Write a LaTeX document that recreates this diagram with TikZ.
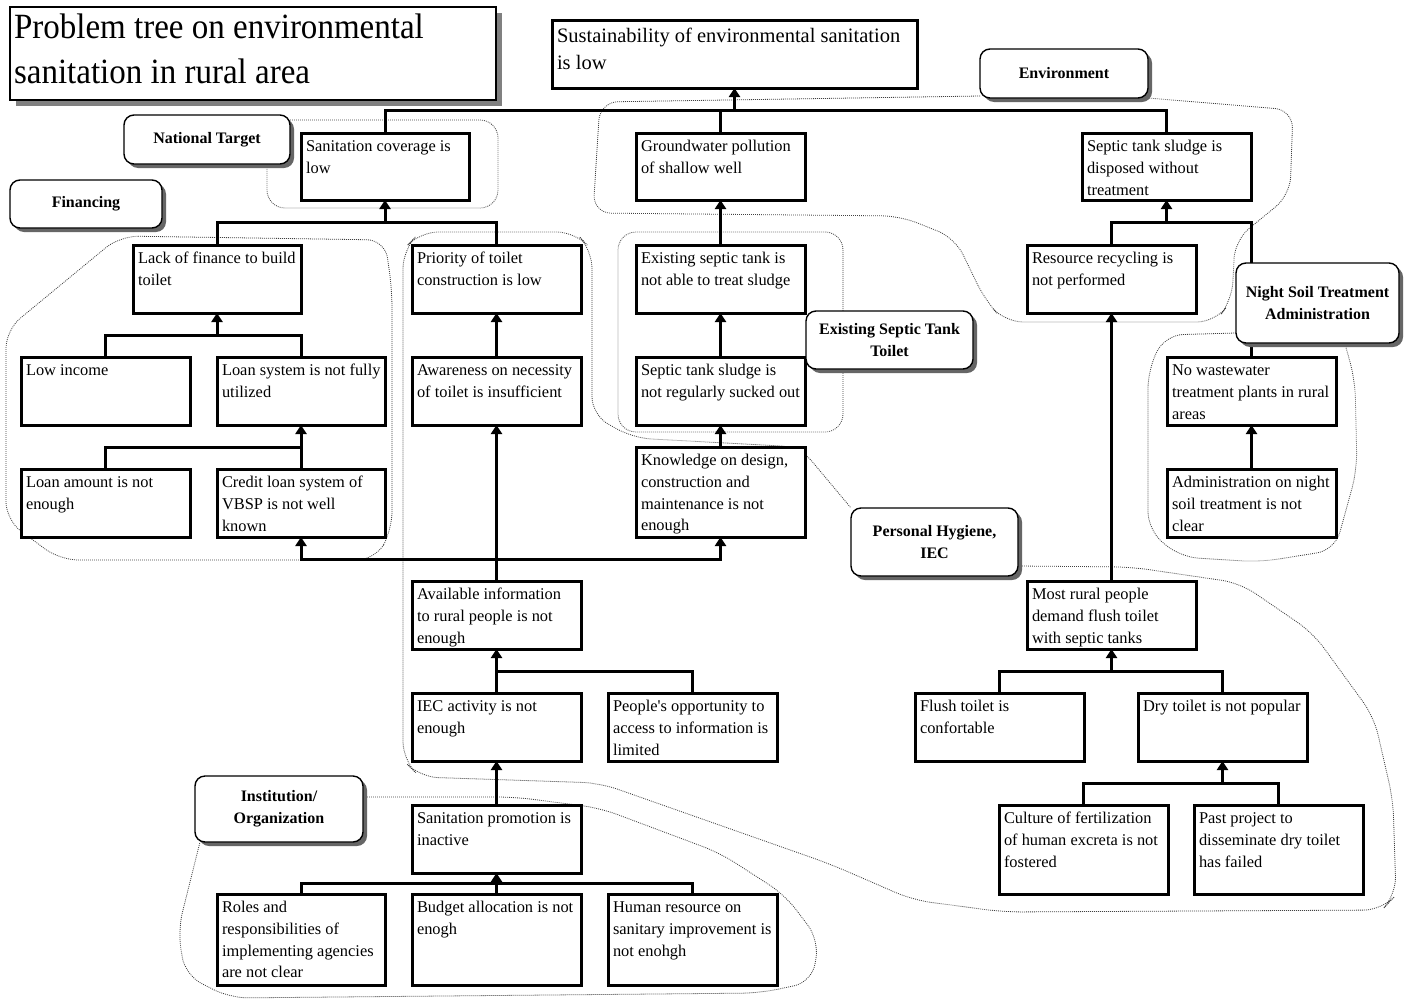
\documentclass[tikz,border=0pt]{standalone}
\usepackage{fontspec}
\setmainfont{Liberation Serif}
\newfontfamily\titlefont[FakeStretch=0.93]{Liberation Serif}
\usetikzlibrary{arrows.meta,shadows}
\newcommand{\pb}[7][]{%
  \node[pbox,#1,anchor=north west] (#2) at (#3,#4)
   {\parbox[c][\dimexpr #6pt-#4pt-7pt\relax][t]{\dimexpr #5pt-#3pt-10pt\relax}{\begin{tabular}[t]{@{}l@{}}#7\end{tabular}}};}
\newcommand{\lb}[6]{%
  \node[lbl, minimum width={(#4-#2)*1pt}, minimum height={(#5-#3)*1pt}] (#1) at ({(#2+#4)/2},{(#3+#5)/2}) {#6};}
\begin{document}
\begin{tikzpicture}[x=1pt,y=-1pt,
  pbox/.style={draw, line width=3pt, fill=white, inner xsep=5pt, inner ysep=3.5pt, outer sep=0pt,
    font=\fontsize{16.4}{21.7}\selectfont},
  bigtext/.style={font=\fontsize{20.5}{27}\selectfont},
  lbl/.style={draw, line width=1.4pt, rounded corners=10pt, fill=white, align=center, inner sep=0pt,
    font=\bfseries\fontsize{16}{22}\selectfont,
    general shadow={fill=black!60, shadow xshift=4pt, shadow yshift=-4pt}},
  conn/.style={line width=3pt},
  arr/.style={line width=3pt, -{Triangle[width=11pt,length=9pt]}},
  grp/.style={draw=black!75, line width=0.8pt, dash pattern=on 0.9pt off 1.1pt, rounded corners=18pt}]
\fill[white] (0,0) rectangle (1404,1001);
\useasboundingbox (0,0) rectangle (1404,1001);

% group outlines
\draw[grp] (290,120) -- (498,120) -- (498,208) -- (267,208) -- (267,163);
\draw[grp] (980,96) -- (600,102) -- (593,213) -- (900,216) -- (955,238) -- (985,300) -- (1005,322)
  -- (1215,322) -- (1232,300) -- (1235,240) -- (1290,195) -- (1293,110) -- (1148,98);
\draw[grp] (120,236) -- (385,240) -- (392,290) -- (392,530) -- (375,560) -- (60,560) -- (6,520)
  -- (6,330) -- cycle;
\draw[grp] (1018,566) -- (1131,567) -- (1240,583) -- (1313,633) -- (1374,717) -- (1393,800)
  -- (1396,895) -- (1382,910) -- (1004,912) -- (913,900) -- (830,864) -- (600,783) -- (420,777)
  -- (403,760) -- (403,250) -- (420,232) -- (575,232) -- (592,250) -- (592,415) -- (633,438)
  -- (800,447) -- (851,508);
\draw[grp] (843,311) -- (843,232) -- (618,232) -- (618,432) -- (843,432) -- (843,369);
\draw[grp] (1236,333) -- (1165,335) -- (1148,370) -- (1148,530) -- (1180,557) -- (1260,562)
  -- (1335,550) -- (1357,470) -- (1355,380) -- (1345,344);
\draw[grp] (363,797) -- (515,797) -- (600,808) -- (720,853) -- (785,895) -- (819,940) -- (812,982)
  -- (760,993) -- (230,998) -- (185,975) -- (178,930) -- (200,842);

% title
\node[draw, line width=1.3pt, fill=white, inner sep=0pt, outer sep=0pt, anchor=north west,
  general shadow={fill=black!50, shadow xshift=6pt, shadow yshift=-6pt},
  font=\titlefont\fontsize{35.5}{45}\selectfont] (title) at (10,7)
  {\parbox[c][93pt][t]{486pt}{\hspace*{4pt}\begin{tabular}[t]{@{}l@{}}Problem tree on environmental\\sanitation in rural area\end{tabular}}};

% problem boxes
\pb[bigtext]{sust}{552}{20}{917}{88}{Sustainability of environmental sanitation\\is low}
\pb{sancov}{301}{133}{469}{200}{Sanitation coverage is\\low}
\pb{ground}{636}{133}{805}{200}{Groundwater pollution\\of shallow well}
\pb{disp}{1082}{133}{1251}{200}{Septic tank sludge is\\disposed without\\treatment}
\pb{lackfin}{133}{245}{301}{313}{Lack of finance to build\\toilet}
\pb{prio}{412}{245}{581}{313}{Priority of toilet\\construction is low}
\pb{exist}{636}{245}{805}{313}{Existing septic tank is\\not able to treat sludge}
\pb{resrec}{1027}{245}{1196}{313}{Resource recycling is\\not performed}
\pb{lowinc}{21}{357}{190}{425}{Low income}
\pb{loansys}{217}{357}{385}{425}{Loan system is not fully\\utilized}
\pb{aware}{412}{357}{581}{425}{Awareness on necessity\\of toilet is insufficient}
\pb{sucked}{636}{357}{805}{425}{Septic tank sludge is\\not regularly sucked out}
\pb{noww}{1167}{357}{1336}{425}{No wastewater\\treatment plants in rural\\areas}
\pb{loanamt}{21}{469}{190}{537}{Loan amount is not\\enough}
\pb{credit}{217}{469}{385}{537}{Credit loan system of\\VBSP is not well\\known}
\pb{know}{636}{447}{805}{537}{Knowledge on design,\\construction and\\maintenance is not\\enough}
\pb{admin}{1167}{469}{1336}{537}{Administration on night\\soil treatment is not\\clear}
\pb{avail}{412}{581}{581}{649}{Available information\\to rural people is not\\enough}
\pb{most}{1027}{581}{1196}{649}{Most rural people\\demand flush toilet\\with septic tanks}
\pb{iec}{412}{693}{581}{761}{IEC activity is not\\enough}
\pb{opp}{608}{693}{777}{761}{People\textquotesingle s opportunity to\\access to information is\\limited}
\pb{flush}{915}{693}{1084}{761}{Flush toilet is\\confortable}
\pb{dry}{1138}{693}{1307}{761}{Dry toilet is not popular}
\pb{promo}{412}{805}{581}{873}{Sanitation promotion is\\inactive}
\pb{culture}{999}{805}{1168}{894}{Culture of fertilization\\of human excreta is not\\fostered}
\pb{past}{1194}{805}{1363}{894}{Past project to\\disseminate dry toilet\\has failed}
\pb{roles}{217}{894}{385}{985}{Roles and\\responsibilities of\\implementing agencies\\are not clear}
\pb{budget}{412}{894}{581}{985}{Budget allocation is not\\enogh}
\pb{human}{608}{894}{777}{985}{Human resource on\\sanitary improvement is\\not enohgh}

% bus levels
\coordinate (yA) at (0,110);
\coordinate (yB) at (0,222);
\coordinate (yC) at (0,335);
\coordinate (yD) at (0,447);
\coordinate (yE) at (0,559);
\coordinate (yF) at (0,671);
\coordinate (yG) at (0,783);
\coordinate (yH) at (0,883);

% connectors
\draw[conn] (sancov.north) |- (disp.north |- yA) -- (disp.north);
\draw[conn] (ground.north) -- (ground.north |- yA);
\draw[arr] (sust.south |- yA) -- (sust.south);

\draw[conn] (lackfin.north) |- (prio.north |- yB) -- (prio.north);
\draw[arr] (sancov.south |- yB) -- (sancov.south);

\draw[conn] (lowinc.north) |- (loansys.north |- yC) -- (loansys.north);
\draw[arr] (lackfin.south |- yC) -- (lackfin.south);

\draw[conn] (loanamt.north) |- (credit.north |- yD);
\draw[arr] (credit.north) -- (loansys.south);

\draw[arr] (avail.north |- yE) -| (credit.south);
\draw[arr] (avail.north |- yE) -| (know.south);
\draw[arr] (avail.north) -- (aware.south);
\draw[arr] (aware.north) -- (prio.south);

\draw[arr] (exist.north) -- (ground.south);
\draw[arr] (sucked.north) -- (exist.south);
\draw[arr] (know.north) -- (sucked.south);

\draw[conn] (resrec.north) |- (noww.north |- yB) -- (noww.north);
\draw[arr] (disp.south |- yB) -- (disp.south);
\draw[arr] (admin.north) -- (noww.south);
\draw[arr] (most.north) -- (resrec.south);

\draw[conn] (iec.north) |- (opp.north |- yF) -- (opp.north);
\draw[arr] (avail.south |- yF) -- (avail.south);
\draw[arr] (promo.north) -- (iec.south);

\draw[conn] (roles.north) |- (human.north |- yH) -- (human.north);
\draw[conn] (budget.north) -- (budget.north |- yH);
\draw[arr] (promo.south |- yH) -- (promo.south);

\draw[conn] (flush.north) |- (dry.north |- yF) -- (dry.north);
\draw[arr] (most.south |- yF) -- (most.south);

\draw[conn] (culture.north) |- (past.north |- yG) -- (past.north);
\draw[arr] (dry.south |- yG) -- (dry.south);

% category labels
\lb{natl}{124}{115}{290}{164}{National Target}
\lb{fin}{10}{180}{162}{228}{Financing}
\lb{env}{980}{49}{1148}{98}{Environment}
\lb{est}{806}{311}{973}{369}{Existing Septic Tank\\Toilet}
\lb{nst}{1236}{263}{1399}{343}{Night Soil Treatment\\Administration}
\lb{phy}{851}{508}{1018}{576}{Personal Hygiene,\\IEC}
\lb{inst}{195}{776}{363}{842}{Institution/\\Organization}
\end{tikzpicture}
\end{document}
